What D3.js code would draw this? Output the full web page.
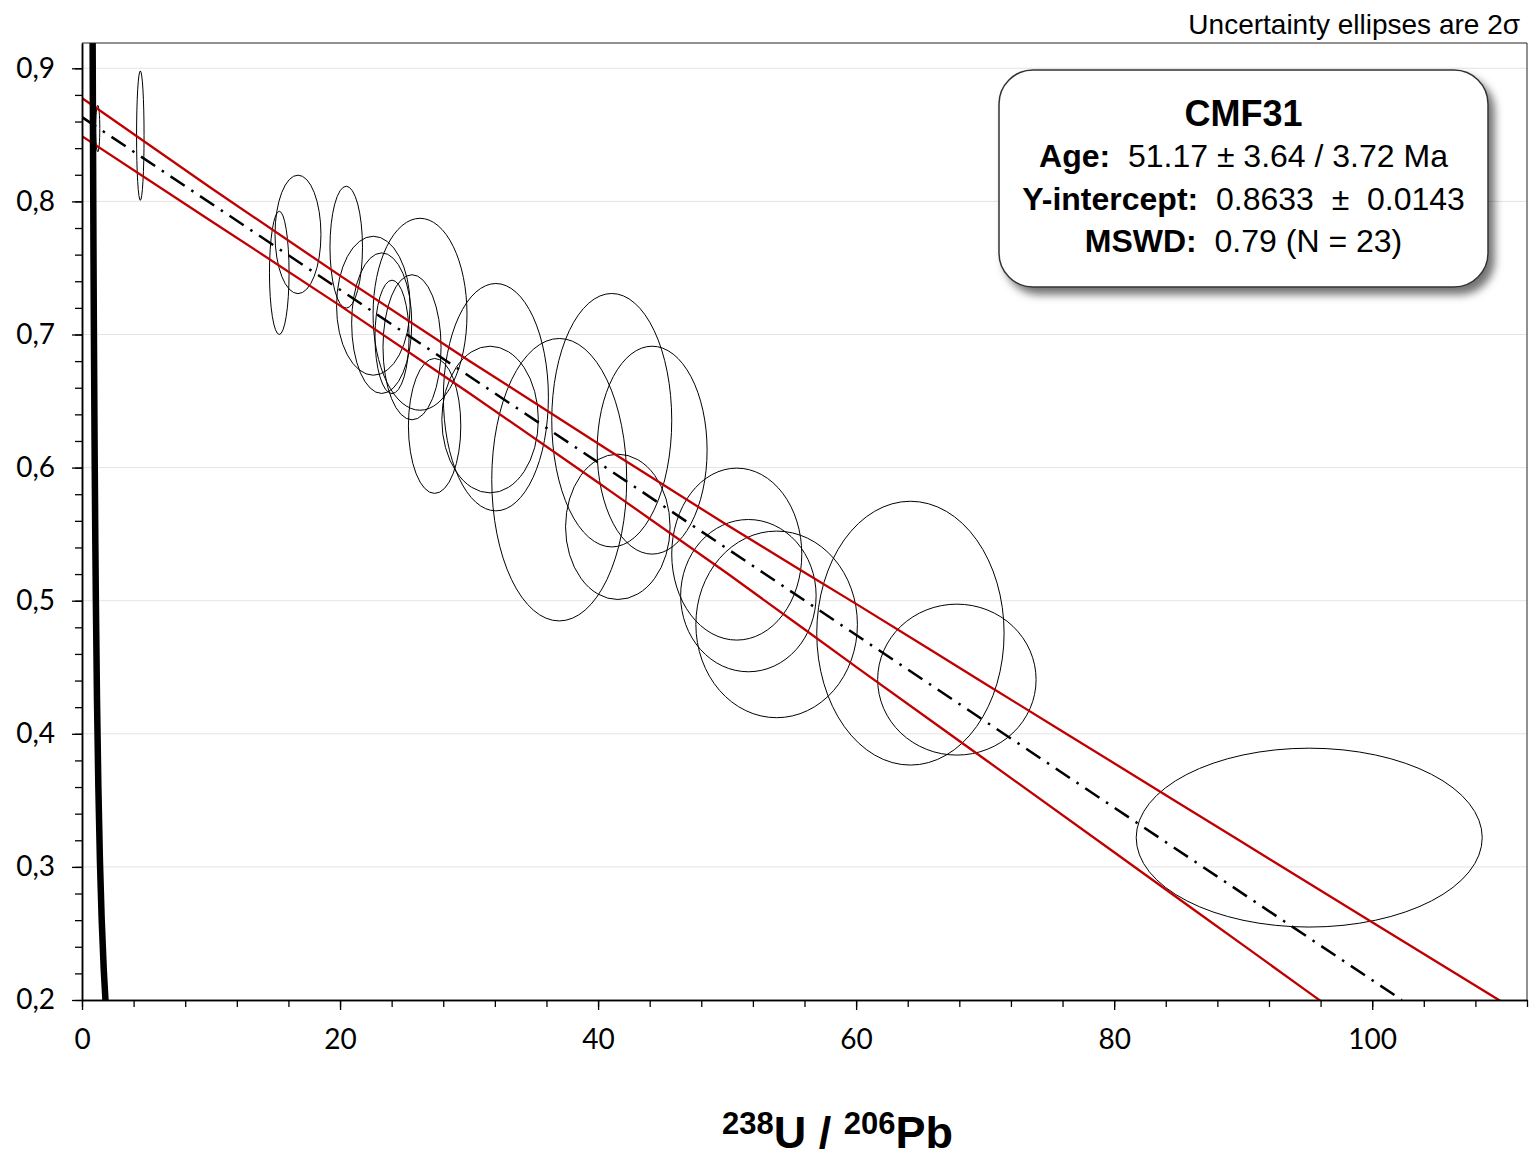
<!DOCTYPE html>
<html><head><meta charset="utf-8">
<script src="https://cdn.jsdelivr.net/npm/d3@7"></script>
<style>
html,body{margin:0;padding:0;background:#fff;}
svg{display:block;}
</style></head>
<body>
<div id="chart"></div>
<script>
// ---- Data ----
// Ellipse centres (238U/206Pb, 207Pb/206Pb) and 2-sigma half-widths
const ellipseX  = [1.22, 4.52, 15.29, 16.74, 20.48, 22.58, 23.23, 24.03, 25.58, 26.20, 27.33, 32.08, 31.63, 36.99, 41.06, 41.53, 44.19, 50.75, 51.65, 53.84, 64.21, 67.81, 95.12];
const ellipseY  = [0.8547, 0.8494, 0.7463, 0.7752, 0.7656, 0.7216, 0.7085, 0.6982, 0.6904, 0.7152, 0.6313, 0.6529, 0.6361, 0.5909, 0.6356, 0.5555, 0.6131, 0.5350, 0.5038, 0.4822, 0.4756, 0.4407, 0.3220];
const ellipseSx = [0.16, 0.29, 0.76, 1.78, 1.26, 2.85, 2.33, 1.32, 2.25, 3.64, 2.03, 4.07, 3.74, 5.23, 4.65, 4.05, 4.26, 5.04, 5.25, 6.26, 7.26, 6.14, 13.41];
const ellipseSy = [0.0175, 0.0486, 0.0463, 0.0445, 0.0458, 0.0522, 0.0528, 0.0426, 0.0545, 0.0721, 0.0507, 0.0854, 0.0551, 0.1061, 0.0952, 0.0546, 0.0781, 0.0646, 0.0572, 0.0701, 0.0991, 0.0567, 0.0672];

// Tera-Wasserburg concordia (thick black curve)
const concordiaX = [1.8795, 1.838, 1.687, 1.5254, 1.387, 1.2672, 1.163, 1.0713, 0.9903, 0.9178, 0.8532, 0.8292, 0.8062];
const concordiaY = [0.1909, 0.1968, 0.2226, 0.2606, 0.3059, 0.3600, 0.4251, 0.5029, 0.5967, 0.7093, 0.8453, 0.9069, 0.9735];

// Regression line (dash-dot)
const regressionX = [0, 102.3];
const regressionY = [0.8633, 0.2];

// Error envelope (red)
const envelopeX = [0, 10, 20, 30, 40, 50, 60, 70, 80, 90, 100, 110];
const envelopeUpperY = [0.8776, 0.8101, 0.7442, 0.6803, 0.6181, 0.5568, 0.4976, 0.4376, 0.3779, 0.3181, 0.2584, 0.1989];
const envelopeLowerY = [0.8490, 0.7853, 0.7217, 0.6561, 0.5888, 0.5206, 0.4503, 0.3807, 0.3110, 0.2412, 0.1714, 0.1016];

// Axes
const xMajorTicks = [0, 20, 40, 60, 80, 100];
const xMinorTicks = [0,4,8,12,16,20,24,28,32,36,40,44,48,52,56,60,64,68,72,76,80,84,88,92,96,100,104,108,112];
const yMajorTicks = [0.2, 0.3, 0.4, 0.5, 0.6, 0.7, 0.8, 0.9];
const yMinorTicks = [0.2,0.22,0.24,0.26,0.28,0.3,0.32,0.34,0.36,0.38,0.4,0.42,0.44,0.46,0.48,0.5,0.52,0.54,0.56,0.58,0.6,0.62,0.64,0.66,0.68,0.7,0.72,0.74,0.76,0.78,0.8,0.82,0.84,0.86,0.88,0.9];

// Text
const sampleName = "CMF31";
const infoLines = [
  ["Age:", "  51.17 ± 3.64 / 3.72 Ma"],
  ["Y-intercept:", "  0.8633  ±  0.0143"],
  ["MSWD:", "  0.79 (N = 23)"]
];
const noteText = "Uncertainty ellipses are 2σ";

// ---- Drawing ----
const W = 1535, H = 1160;
const L = 82, R = 1527, T = 43, B = 1000;
const x = d3.scaleLinear().domain([0, 112]).range([L, R]);
const y = d3.scaleLinear().domain([0.2, 0.919]).range([B, T]);

const svg = d3.select("#chart").append("svg").attr("width", W).attr("height", H);
const defs = svg.append("defs");
defs.append("clipPath").attr("id", "plotclip").append("rect")
  .attr("x", L).attr("y", T).attr("width", R - L).attr("height", B - T);
const f = defs.append("filter").attr("id", "shadow").attr("x", "-10%").attr("y", "-10%").attr("width", "130%").attr("height", "140%");
f.append("feDropShadow").attr("dx", 6).attr("dy", 7).attr("stdDeviation", 4).attr("flood-color", "#000").attr("flood-opacity", 0.55);

// gridlines
svg.append("g").selectAll("line").data(yMajorTicks.filter(d => d > 0.2)).join("line")
  .attr("x1", L).attr("x2", R).attr("y1", d => y(d)).attr("y2", d => y(d))
  .attr("stroke", "#e4e4e4").attr("stroke-width", 1);

const plot = svg.append("g").attr("clip-path", "url(#plotclip)");

// ellipses
plot.append("g").selectAll("ellipse").data(ellipseX.map((d, i) => i)).join("ellipse")
  .attr("cx", i => x(ellipseX[i]))
  .attr("cy", i => y(ellipseY[i]))
  .attr("rx", i => x(ellipseX[i] + ellipseSx[i]) - x(ellipseX[i]))
  .attr("ry", i => y(ellipseY[i] - ellipseSy[i]) - y(ellipseY[i]))
  .attr("fill", "none").attr("stroke", "#000").attr("stroke-width", 1);

// envelope
const envLine = d3.line().x(d => x(d[0])).y(d => y(d[1])).curve(d3.curveMonotoneX);
plot.append("path").datum(envelopeX.map((d, i) => [d, envelopeUpperY[i]]))
  .attr("d", envLine).attr("fill", "none").attr("stroke", "#c00000").attr("stroke-width", 2.3);
plot.append("path").datum(envelopeX.map((d, i) => [d, envelopeLowerY[i]]))
  .attr("d", envLine).attr("fill", "none").attr("stroke", "#c00000").attr("stroke-width", 2.3);

// regression
plot.append("path").datum(regressionX.map((d, i) => [d, regressionY[i]]))
  .attr("d", d3.line().x(d => x(d[0])).y(d => y(d[1])))
  .attr("fill", "none").attr("stroke", "#000").attr("stroke-width", 2.5)
  .attr("stroke-dasharray", "17 8 2.5 8");

// concordia
plot.append("path").datum(concordiaX.map((d, i) => [d, concordiaY[i]]))
  .attr("d", d3.line().x(d => x(d[0])).y(d => y(d[1])).curve(d3.curveMonotoneY))
  .attr("fill", "none").attr("stroke", "#000").attr("stroke-width", 6.5);

// frame top & right
svg.append("line").attr("x1", L).attr("x2", R).attr("y1", T).attr("y2", T).attr("stroke", "#222").attr("stroke-width", 1);
svg.append("line").attr("x1", R).attr("x2", R).attr("y1", T).attr("y2", B).attr("stroke", "#222").attr("stroke-width", 1);

// axes
const tickFont = "Lato, 'Open Sans', sans-serif";
const gxMinor = svg.append("g").attr("transform", `translate(0,${B})`)
  .call(d3.axisBottom(x).tickValues(xMinorTicks).tickSize(7).tickSizeOuter(0).tickFormat(""));
const gx = svg.append("g").attr("transform", `translate(0,${B})`)
  .call(d3.axisBottom(x).tickValues(xMajorTicks).tickSize(10).tickSizeOuter(0).tickPadding(19).tickFormat(d3.format("d")));
const gyMinor = svg.append("g").attr("transform", `translate(${L},0)`)
  .call(d3.axisLeft(y).tickValues(yMinorTicks).tickSize(7).tickSizeOuter(0).tickFormat(""));
const gy = svg.append("g").attr("transform", `translate(${L},0)`)
  .call(d3.axisLeft(y).tickValues(yMajorTicks).tickSize(10).tickSizeOuter(0).tickPadding(17)
    .tickFormat(d => d3.format(".1f")(d).replace(".", ",")));
[gxMinor, gx, gyMinor, gy].forEach(g => {
  g.select(".domain").attr("stroke", "#000").attr("stroke-width", 1.5);
  g.selectAll(".tick line").attr("stroke", "#000").attr("stroke-width", 1.3);
  g.selectAll("text").attr("font-family", tickFont).attr("font-size", 28).attr("fill", "#000");
});

// axis title
const title = svg.append("text").attr("x", 722).attr("y", 1148)
  .attr("font-family", "'Liberation Sans', Arial, sans-serif").attr("font-weight", "bold").attr("fill", "#000");
title.append("tspan").attr("font-size", 31).attr("dy", -14).text("238");
title.append("tspan").attr("font-size", 45).attr("dy", 14).text("U / ");
title.append("tspan").attr("font-size", 31).attr("dy", -14).text("206");
title.append("tspan").attr("font-size", 45).attr("dy", 14).text("Pb");

// note
svg.append("text").attr("x", 1520).attr("y", 34).attr("text-anchor", "end")
  .attr("font-family", "'Liberation Sans', Arial, sans-serif").attr("font-size", 28).attr("fill", "#000")
  .text(noteText);

// info box
const bx = 999, by = 70, bw = 489, bh = 217;
svg.append("rect").attr("x", bx).attr("y", by).attr("width", bw).attr("height", bh)
  .attr("rx", 34).attr("ry", 34).attr("fill", "#fff").attr("stroke", "#333").attr("stroke-width", 1.5)
  .attr("filter", "url(#shadow)");
const cxBox = bx + bw / 2;
svg.append("text").attr("x", cxBox).attr("y", 126).attr("text-anchor", "middle")
  .attr("font-family", "'Liberation Sans', Arial, sans-serif").attr("font-size", 36).attr("font-weight", "bold")
  .text(sampleName);
const baselines = [167, 210, 252];
infoLines.forEach((ln, i) => {
  const t = svg.append("text").attr("x", cxBox).attr("y", baselines[i]).attr("text-anchor", "middle")
    .attr("font-family", "'Liberation Sans', Arial, sans-serif").attr("font-size", 32)
    .style("white-space", "pre");
  t.append("tspan").attr("font-weight", "bold").text(ln[0]);
  t.append("tspan").text(ln[1]);
});
</script>
</body></html>
